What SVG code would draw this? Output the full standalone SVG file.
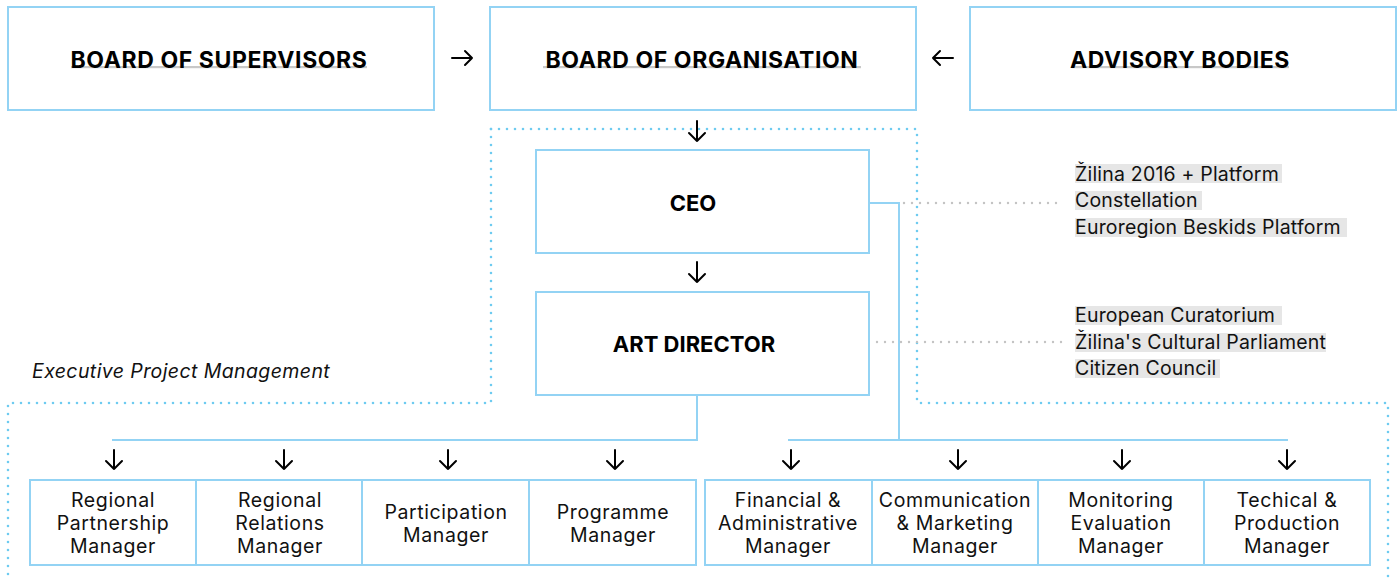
<svg xmlns="http://www.w3.org/2000/svg" width="1400" height="582" viewBox="0 0 1400 582">
<defs>
<style>
.box{fill:#fff;stroke:#93d3f4;stroke-width:2}
.conn{fill:none;stroke:#93d3f4;stroke-width:2}
.dot{fill:none;stroke:#6ecbf0;stroke-width:2.6;stroke-linecap:round;stroke-dasharray:0 8}
.gdot{fill:none;stroke:#c4c4c4;stroke-width:2.4;stroke-linecap:round;stroke-dasharray:0 8}
.arr{fill:none;stroke:#000;stroke-width:2;stroke-linecap:round;stroke-linejoin:round}
.title{font-family:Inter,"Liberation Sans",sans-serif;font-weight:700;font-size:23px;letter-spacing:0.6px;fill:#000;text-anchor:middle}
.title2{font-family:Inter,"Liberation Sans",sans-serif;font-weight:700;font-size:22px;fill:#000;text-anchor:middle}
.lbl{font-family:Inter,"Liberation Sans",sans-serif;font-size:19.5px;letter-spacing:0.6px;fill:#111;text-anchor:middle}
.side{font-family:Inter,"Liberation Sans",sans-serif;font-size:19.5px;letter-spacing:0.2px;fill:#111}
.hl{fill:#e6e6e6}
.ul{fill:#c8c8c8}
.ital{font-family:Inter,"Liberation Sans",sans-serif;font-style:italic;font-size:19.5px;letter-spacing:0.4px;fill:#111}
</style>
</defs>
<rect width="1400" height="582" fill="#fff"/>

<g id="exec-frame">
<path class="dot" d="M491,129 H917 V403 H1388 V582"/>
<path class="dot" d="M491,129 V403 H8 V582"/>
<text class="ital" x="32" y="378">Executive Project Management</text>
</g>

<g id="connectors">
<path class="arr" d="M452,58 H472 M465,51 L472,58 L465,65"/>
<path class="arr" d="M953,58 H933 M940,51 L933,58 L940,65"/>
<path class="arr" d="M697,121 V141 M689,133 L697,141 L705,133"/>
<path class="arr" d="M697,262 V282 M689,274 L697,282 L705,274"/>
<path class="conn" d="M869,203 H899 V440"/>
<path class="conn" d="M788,440 H1288"/>
<path class="conn" d="M697,395 V440 H112"/>
<path class="gdot" d="M904,203 H1064"/>
<path class="gdot" d="M877,342 H1064"/>
<g id="down-arrows">
<path class="arr" d="M114,450 V469 M106,461 L114,469 L122,461"/>
<path class="arr" d="M284,450 V469 M276,461 L284,469 L292,461"/>
<path class="arr" d="M448,450 V469 M440,461 L448,469 L456,461"/>
<path class="arr" d="M615,450 V469 M607,461 L615,469 L623,461"/>
<path class="arr" d="M791,450 V469 M783,461 L791,469 L799,461"/>
<path class="arr" d="M958,450 V469 M950,461 L958,469 L966,461"/>
<path class="arr" d="M1122,450 V469 M1114,461 L1122,469 L1130,461"/>
<path class="arr" d="M1287,450 V469 M1279,461 L1287,469 L1295,461"/>
</g>
</g>

<g id="board-supervisors">
<rect class="box" x="8" y="7" width="426" height="103"/>
<rect class="ul" x="71" y="66" width="296" height="2.2"/>
<text class="title" x="219" y="68">BOARD OF SUPERVISORS</text>
</g>
<g id="board-organisation">
<rect class="box" x="490" y="7" width="426" height="103"/>
<rect class="ul" x="543" y="66" width="318" height="2.2"/>
<text class="title" x="702" y="68">BOARD OF ORGANISATION</text>
</g>
<g id="advisory-bodies">
<rect class="box" x="970" y="7" width="426" height="103"/>
<rect class="ul" x="1072" y="66" width="217" height="2.2"/>
<text class="title" x="1180" y="68">ADVISORY BODIES</text>
</g>
<g id="ceo">
<rect class="box" x="536" y="150" width="333" height="103"/>
<text class="title2" x="693" y="211">CEO</text>
</g>
<g id="art-director">
<rect class="box" x="536" y="292" width="333" height="103"/>
<text class="title2" x="694" y="352">ART DIRECTOR</text>
</g>

<g id="platforms">
<rect class="hl" x="1075" y="164" width="207" height="19"/>
<rect class="hl" x="1075" y="191" width="127" height="19"/>
<rect class="hl" x="1075" y="218" width="272" height="19"/>
<text class="side" x="1075" y="181">Žilina 2016 + Platform</text>
<text class="side" x="1075" y="207">Constellation</text>
<text class="side" x="1075" y="234">Euroregion Beskids Platform</text>
</g>
<g id="councils">
<rect class="hl" x="1075" y="306" width="207" height="19"/>
<rect class="hl" x="1075" y="333" width="251" height="19"/>
<rect class="hl" x="1075" y="359" width="145" height="19"/>
<text class="side" x="1075" y="322">European Curatorium</text>
<text class="side" x="1075" y="349">Žilina's Cultural Parliament</text>
<text class="side" x="1075" y="375">Citizen Council</text>
</g>

<g id="regional-partnership">
<rect class="box" x="30" y="480" width="166" height="85"/>
<text class="lbl" x="113" y="507">Regional</text>
<text class="lbl" x="113" y="530">Partnership</text>
<text class="lbl" x="113" y="553">Manager</text>
</g>
<g id="regional-relations">
<rect class="box" x="196" y="480" width="166" height="85"/>
<text class="lbl" x="280" y="507">Regional</text>
<text class="lbl" x="280" y="530">Relations</text>
<text class="lbl" x="280" y="553">Manager</text>
</g>
<g id="participation">
<rect class="box" x="362" y="480" width="167" height="85"/>
<text class="lbl" x="446" y="519">Participation</text>
<text class="lbl" x="446" y="542">Manager</text>
</g>
<g id="programme">
<rect class="box" x="529" y="480" width="167" height="85"/>
<text class="lbl" x="613" y="519">Programme</text>
<text class="lbl" x="613" y="542">Manager</text>
</g>
<g id="financial">
<rect class="box" x="705" y="480" width="167" height="85"/>
<text class="lbl" x="788" y="507">Financial &amp;</text>
<text class="lbl" x="788" y="530">Administrative</text>
<text class="lbl" x="788" y="553">Manager</text>
</g>
<g id="communication">
<rect class="box" x="872" y="480" width="166" height="85"/>
<text class="lbl" x="955" y="507">Communication</text>
<text class="lbl" x="955" y="530">&amp; Marketing</text>
<text class="lbl" x="955" y="553">Manager</text>
</g>
<g id="monitoring">
<rect class="box" x="1038" y="480" width="166" height="85"/>
<text class="lbl" x="1121" y="507">Monitoring</text>
<text class="lbl" x="1121" y="530">Evaluation</text>
<text class="lbl" x="1121" y="553">Manager</text>
</g>
<g id="technical">
<rect class="box" x="1204" y="480" width="166" height="85"/>
<text class="lbl" x="1287" y="507">Techical &amp;</text>
<text class="lbl" x="1287" y="530">Production</text>
<text class="lbl" x="1287" y="553">Manager</text>
</g>
</svg>
